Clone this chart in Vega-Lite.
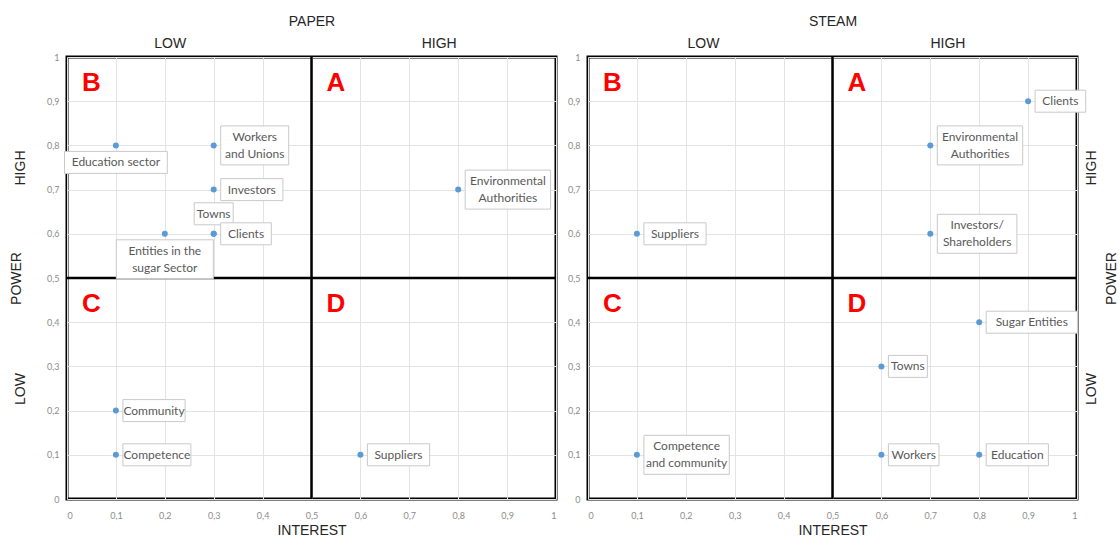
{
  "$schema": "https://vega.github.io/schema/vega-lite/v6.json",
  "padding": {"left": 7, "top": 12, "right": 0, "bottom": 0},
  "background": "white",
  "config": {
    "view": {"stroke": "#000000", "strokeWidth": 3},
    "font": "Liberation Sans",
    "axis": {"labelFont": "Lato", "titleFont": "Liberation Sans"}
  },
  "datasets": {
    "stakeholders": [
      {"chart": "PAPER", "label": ["Education sector"], "interest": 0.1, "power": 0.8, "pos": "below"},
      {"chart": "PAPER", "label": ["Workers", "and Unions"], "interest": 0.3, "power": 0.8, "pos": "right"},
      {"chart": "PAPER", "label": ["Investors"], "interest": 0.3, "power": 0.7, "pos": "right"},
      {"chart": "PAPER", "label": ["Towns"], "interest": 0.3, "power": 0.6, "pos": "above"},
      {"chart": "PAPER", "label": ["Clients"], "interest": 0.3, "power": 0.6, "pos": "right"},
      {"chart": "PAPER", "label": ["Entities in the", "sugar Sector"], "interest": 0.2, "power": 0.6, "pos": "below"},
      {"chart": "PAPER", "label": ["Environmental", "Authorities"], "interest": 0.8, "power": 0.7, "pos": "right"},
      {"chart": "PAPER", "label": ["Community"], "interest": 0.1, "power": 0.2, "pos": "right"},
      {"chart": "PAPER", "label": ["Competence"], "interest": 0.1, "power": 0.1, "pos": "right"},
      {"chart": "PAPER", "label": ["Suppliers"], "interest": 0.6, "power": 0.1, "pos": "right"},
      {"chart": "STEAM", "label": ["Clients"], "interest": 0.9, "power": 0.9, "pos": "right"},
      {"chart": "STEAM", "label": ["Environmental", "Authorities"], "interest": 0.7, "power": 0.8, "pos": "right"},
      {"chart": "STEAM", "label": ["Investors/", "Shareholders"], "interest": 0.7, "power": 0.6, "pos": "right"},
      {"chart": "STEAM", "label": ["Suppliers"], "interest": 0.1, "power": 0.6, "pos": "right"},
      {"chart": "STEAM", "label": ["Sugar Entities"], "interest": 0.8, "power": 0.4, "pos": "right"},
      {"chart": "STEAM", "label": ["Towns"], "interest": 0.6, "power": 0.3, "pos": "right"},
      {"chart": "STEAM", "label": ["Workers"], "interest": 0.6, "power": 0.1, "pos": "right"},
      {"chart": "STEAM", "label": ["Education"], "interest": 0.8, "power": 0.1, "pos": "right"},
      {"chart": "STEAM", "label": ["Competence", "and community"], "interest": 0.1, "power": 0.1, "pos": "right"}
    ],
    "quadrants": [
      {"quadrant": "B", "interestFrom": 0, "powerTo": 1},
      {"quadrant": "A", "interestFrom": 0.5, "powerTo": 1},
      {"quadrant": "C", "interestFrom": 0, "powerTo": 0.5},
      {"quadrant": "D", "interestFrom": 0.5, "powerTo": 0.5}
    ],
    "splits": [{"split": 0.5}]
  },
  "spacing": 7,
  "hconcat": [
    {
      "width": 489,
      "height": 442,
      "layer": [
        {
          "data": {"name": "splits"},
          "mark": {"type": "rule", "color": "#000000", "strokeWidth": 2.5},
          "encoding": {
            "x": {"field": "split", "type": "quantitative", "scale": {"domain": [0, 1], "nice": false},
              "axis": {"orient": "top", "values": [0.21, 0.76], "labelExpr": "datum.value < 0.5 ? 'LOW' : 'HIGH'", "title": "PAPER",
                "grid": false, "ticks": false, "domain": false, "labelFont": "Liberation Sans", "labelFontSize": 14, "labelColor": "#262626",
                "labelPadding": 7, "titleFontSize": 14, "titleFontWeight": "normal", "titleColor": "#262626", "titlePadding": 8}}
          }
        },
        {
          "data": {"name": "splits"},
          "mark": {"type": "rule", "color": "#000000", "strokeWidth": 2.5},
          "encoding": {
            "y": {"field": "split", "type": "quantitative", "scale": {"domain": [0, 1], "nice": false},
              "axis": {"orient": "left", "values": [0.25, 0.75], "labelExpr": "datum.value < 0.5 ? 'LOW' : 'HIGH'", "title": "POWER",
                "labelAngle": 270, "labelAlign": "center", "labelBaseline": "bottom",
                "grid": false, "ticks": false, "domain": false, "labelFont": "Liberation Sans", "labelFontSize": 14, "labelColor": "#262626",
                "labelPadding": 40, "titleFontSize": 14, "titleFontWeight": "normal", "titleColor": "#262626", "titlePadding": -10}}
          }
        },
        {
          "data": {"name": "stakeholders"},
          "transform": [{"filter": "datum.chart === 'PAPER'"}],
          "mark": {"type": "point", "filled": true, "color": "#5B9BD5", "size": 36, "opacity": 1},
          "encoding": {
            "x": {"field": "interest", "type": "quantitative", "scale": {"domain": [0, 1], "nice": false},
              "axis": {"orient": "bottom", "title": "INTEREST", "values": [0, 0.1, 0.2, 0.3, 0.4, 0.5, 0.6, 0.7, 0.8, 0.9, 1],
                "labelExpr": "replace(format(datum.value, '~g'), '.', ',')", "grid": true, "gridColor": "#E3E3E3", "ticks": false, "domain": false,
                "labelFontSize": 9, "labelColor": "#8C8C8C", "labelPadding": 12,
                "titleFontSize": 14, "titleFontWeight": "normal", "titleColor": "#262626", "titlePadding": 3}},
            "y": {"field": "power", "type": "quantitative", "scale": {"domain": [0, 1], "nice": false},
              "axis": {"orient": "left", "title": null, "values": [0, 0.1, 0.2, 0.3, 0.4, 0.5, 0.6, 0.7, 0.8, 0.9, 1],
                "labelExpr": "replace(format(datum.value, '~g'), '.', ',')", "grid": true, "gridColor": "#E3E3E3", "ticks": false, "domain": false,
                "labelFontSize": 9, "labelColor": "#8C8C8C", "labelPadding": 8}}
          }
        },
        {
          "data": {"name": "stakeholders"},
          "transform": [{"filter": "datum.chart === 'PAPER'"}],
          "mark": {"type": "rect", "fill": "#FFFFFF", "stroke": "#C9C9C9", "strokeWidth": 1,
            "xOffset": {"expr": "datum.pos === 'right' ? 7 : -(max(length(datum.label[0]), length(datum.label[1] || '')) * 5.8 + 10) / 2"},
            "x2Offset": {"expr": "datum.pos === 'right' ? 7 + (max(length(datum.label[0]), length(datum.label[1] || '')) * 5.8 + 10) : (max(length(datum.label[0]), length(datum.label[1] || '')) * 5.8 + 10) / 2"},
            "yOffset": {"expr": "datum.pos === 'right' ? -(length(datum.label) * 17 + 5) / 2 : datum.pos === 'below' ? 6 : -9 - (length(datum.label) * 17 + 5)"},
            "y2Offset": {"expr": "datum.pos === 'right' ? (length(datum.label) * 17 + 5) / 2 : datum.pos === 'below' ? 6 + (length(datum.label) * 17 + 5) : -9"}
          },
          "encoding": {
            "x": {"field": "interest", "type": "quantitative", "axis": null},
            "x2": {"field": "interest"},
            "y": {"field": "power", "type": "quantitative", "axis": null},
            "y2": {"field": "power"}
          }
        },
        {
          "data": {"name": "stakeholders"},
          "transform": [{"filter": "datum.chart === 'PAPER'"}],
          "mark": {"type": "text", "font": "Lato", "fontSize": 12, "color": "#595959", "lineHeight": 17, "align": "center", "baseline": "middle",
            "dx": {"expr": "datum.pos === 'right' ? 7 + (max(length(datum.label[0]), length(datum.label[1] || '')) * 5.8 + 10) / 2 : 0"},
            "dy": {"expr": "(datum.pos === 'right' ? 0 : datum.pos === 'below' ? 6 + (length(datum.label) * 17 + 5) / 2 : -9 - (length(datum.label) * 17 + 5) / 2) - (length(datum.label) - 1) * 8.5"}
          },
          "encoding": {
            "x": {"field": "interest", "type": "quantitative", "axis": null},
            "y": {"field": "power", "type": "quantitative", "axis": null},
            "text": {"field": "label"}
          }
        },
        {
          "data": {"name": "quadrants"},
          "mark": {"type": "text", "font": "Liberation Sans", "fontSize": 26, "fontWeight": "bold", "color": "#FF0000", "align": "left", "baseline": "top", "dx": 15, "dy": 13},
          "encoding": {
            "x": {"field": "interestFrom", "type": "quantitative", "axis": null},
            "y": {"field": "powerTo", "type": "quantitative", "axis": null},
            "text": {"field": "quadrant"}
          }
        }
      ],
      "resolve": {"axis": {"x": "independent", "y": "independent"}}
    },
    {
      "width": 489,
      "height": 442,
      "layer": [
        {
          "data": {"name": "splits"},
          "mark": {"type": "rule", "color": "#000000", "strokeWidth": 2.5},
          "encoding": {
            "x": {"field": "split", "type": "quantitative", "scale": {"domain": [0, 1], "nice": false},
              "axis": {"orient": "top", "values": [0.235, 0.735], "labelExpr": "datum.value < 0.5 ? 'LOW' : 'HIGH'", "title": "STEAM",
                "grid": false, "ticks": false, "domain": false, "labelFont": "Liberation Sans", "labelFontSize": 14, "labelColor": "#262626",
                "labelPadding": 7, "titleFontSize": 14, "titleFontWeight": "normal", "titleColor": "#262626", "titlePadding": 8}}
          }
        },
        {
          "data": {"name": "splits"},
          "mark": {"type": "rule", "color": "#000000", "strokeWidth": 2.5},
          "encoding": {
            "y": {"field": "split", "type": "quantitative", "scale": {"domain": [0, 1], "nice": false},
              "axis": {"orient": "right", "values": [0.25, 0.75], "labelExpr": "datum.value < 0.5 ? 'LOW' : 'HIGH'", "title": "POWER",
                "labelAngle": 270, "labelAlign": "center", "labelBaseline": "top", "titleAngle": 270, "titleBaseline": "top",
                "grid": false, "ticks": false, "domain": false, "labelFont": "Liberation Sans", "labelFontSize": 14, "labelColor": "#262626",
                "labelPadding": 7, "titleFontSize": 14, "titleFontWeight": "normal", "titleColor": "#262626", "titlePadding": 6}}
          }
        },
        {
          "data": {"name": "stakeholders"},
          "transform": [{"filter": "datum.chart === 'STEAM'"}],
          "mark": {"type": "point", "filled": true, "color": "#5B9BD5", "size": 36, "opacity": 1},
          "encoding": {
            "x": {"field": "interest", "type": "quantitative", "scale": {"domain": [0, 1], "nice": false},
              "axis": {"orient": "bottom", "title": "INTEREST", "values": [0, 0.1, 0.2, 0.3, 0.4, 0.5, 0.6, 0.7, 0.8, 0.9, 1],
                "labelExpr": "replace(format(datum.value, '~g'), '.', ',')", "grid": true, "gridColor": "#E3E3E3", "ticks": false, "domain": false,
                "labelFontSize": 9, "labelColor": "#8C8C8C", "labelPadding": 12,
                "titleFontSize": 14, "titleFontWeight": "normal", "titleColor": "#262626", "titlePadding": 3}},
            "y": {"field": "power", "type": "quantitative", "scale": {"domain": [0, 1], "nice": false},
              "axis": {"orient": "left", "title": null, "values": [0, 0.1, 0.2, 0.3, 0.4, 0.5, 0.6, 0.7, 0.8, 0.9, 1],
                "labelExpr": "replace(format(datum.value, '~g'), '.', ',')", "grid": true, "gridColor": "#E3E3E3", "ticks": false, "domain": false,
                "labelFontSize": 9, "labelColor": "#8C8C8C", "labelPadding": 8}}
          }
        },
        {
          "data": {"name": "stakeholders"},
          "transform": [{"filter": "datum.chart === 'STEAM'"}],
          "mark": {"type": "rect", "fill": "#FFFFFF", "stroke": "#C9C9C9", "strokeWidth": 1,
            "xOffset": {"expr": "datum.pos === 'right' ? 7 : -(max(length(datum.label[0]), length(datum.label[1] || '')) * 5.8 + 10) / 2"},
            "x2Offset": {"expr": "datum.pos === 'right' ? 7 + (max(length(datum.label[0]), length(datum.label[1] || '')) * 5.8 + 10) : (max(length(datum.label[0]), length(datum.label[1] || '')) * 5.8 + 10) / 2"},
            "yOffset": {"expr": "datum.pos === 'right' ? -(length(datum.label) * 17 + 5) / 2 : datum.pos === 'below' ? 6 : -9 - (length(datum.label) * 17 + 5)"},
            "y2Offset": {"expr": "datum.pos === 'right' ? (length(datum.label) * 17 + 5) / 2 : datum.pos === 'below' ? 6 + (length(datum.label) * 17 + 5) : -9"}
          },
          "encoding": {
            "x": {"field": "interest", "type": "quantitative", "axis": null},
            "x2": {"field": "interest"},
            "y": {"field": "power", "type": "quantitative", "axis": null},
            "y2": {"field": "power"}
          }
        },
        {
          "data": {"name": "stakeholders"},
          "transform": [{"filter": "datum.chart === 'STEAM'"}],
          "mark": {"type": "text", "font": "Lato", "fontSize": 12, "color": "#595959", "lineHeight": 17, "align": "center", "baseline": "middle",
            "dx": {"expr": "datum.pos === 'right' ? 7 + (max(length(datum.label[0]), length(datum.label[1] || '')) * 5.8 + 10) / 2 : 0"},
            "dy": {"expr": "(datum.pos === 'right' ? 0 : datum.pos === 'below' ? 6 + (length(datum.label) * 17 + 5) / 2 : -9 - (length(datum.label) * 17 + 5) / 2) - (length(datum.label) - 1) * 8.5"}
          },
          "encoding": {
            "x": {"field": "interest", "type": "quantitative", "axis": null},
            "y": {"field": "power", "type": "quantitative", "axis": null},
            "text": {"field": "label"}
          }
        },
        {
          "data": {"name": "quadrants"},
          "mark": {"type": "text", "font": "Liberation Sans", "fontSize": 26, "fontWeight": "bold", "color": "#FF0000", "align": "left", "baseline": "top", "dx": 15, "dy": 13},
          "encoding": {
            "x": {"field": "interestFrom", "type": "quantitative", "axis": null},
            "y": {"field": "powerTo", "type": "quantitative", "axis": null},
            "text": {"field": "quadrant"}
          }
        }
      ],
      "resolve": {"axis": {"x": "independent", "y": "independent"}}
    }
  ]
}
